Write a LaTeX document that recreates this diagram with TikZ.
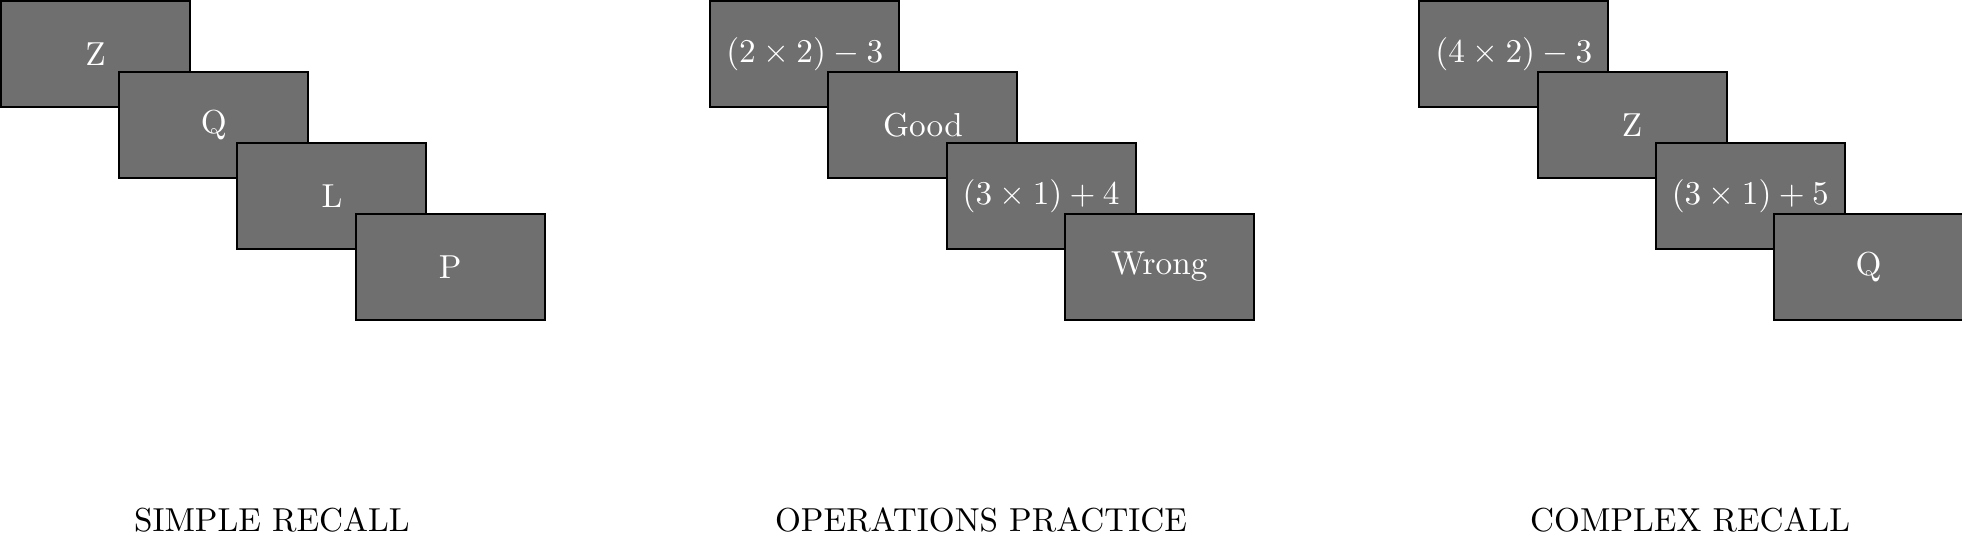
\documentclass[tikz,border=0pt]{standalone}
\definecolor{cardgray}{HTML}{6F6F6F}
\tikzset{
  card/.style={draw=black, semithick, fill=cardgray, text=white,
    minimum width=2cm, minimum height=1.125cm, inner sep=0pt, anchor=north west},
  tasklabel/.style={inner sep=0pt}
}
\begin{document}
\begin{tikzpicture}
  \useasboundingbox (0,0) rectangle (20.75,-5.764);
  % Simple recall: letters only
  \node[card] (s1) at (0,0) {Z};
  \node[card] (s2) at (1.25,-0.75) {Q};
  \node[card] (s3) at (2.5,-1.5) {L};
  \node[card] (s4) at (3.75,-2.25) {P};
  \node[tasklabel] (slabel) at (2.875,-5.5) {SIMPLE RECALL};
  % Operations practice: sums and feedback
  \node[card] (o1) at (7.5,0) {$(2\times 2)-3$};
  \node[card] (o2) at (8.75,-0.75) {Good};
  \node[card] (o3) at (10,-1.5) {$(3\times 1)+4$};
  \node[card] (o4) at (11.25,-2.25) {Wrong};
  \node[tasklabel] (olabel) at (10.375,-5.5) {OPERATIONS PRACTICE};
  % Complex recall: sums and letters in turn
  \node[card] (c1) at (15,0) {$(4\times 2)-3$};
  \node[card] (c2) at (16.25,-0.75) {Z};
  \node[card] (c3) at (17.5,-1.5) {$(3\times 1)+5$};
  \node[card] (c4) at (18.75,-2.25) {Q};
  \node[tasklabel] (clabel) at (17.875,-5.5) {COMPLEX RECALL};
\end{tikzpicture}
\end{document}
